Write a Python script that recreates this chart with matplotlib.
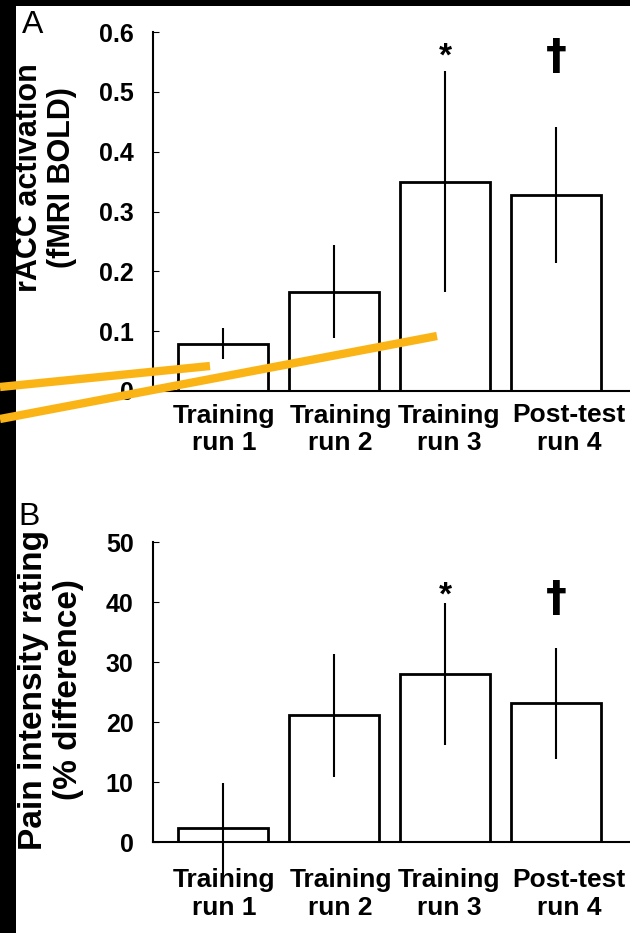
import numpy as np
import matplotlib
matplotlib.use("Agg")
import matplotlib.pyplot as plt
from matplotlib.patches import Rectangle
from matplotlib.lines import Line2D

plt.rcParams['font.family'] = ['Liberation Sans', 'DejaVu Sans']

# data
runs = ["Training\nrun 1", "Training\nrun 2", "Training\nrun 3", "Post-test\nrun 4"]
racc_mean = [0.079, 0.166, 0.350, 0.328]
racc_err = [0.026, 0.078, 0.185, 0.114]
pain_mean = [2.3, 21.1, 28.0, 23.1]
pain_err = [7.6, 10.3, 11.8, 9.3]
marks = ["", "", "*", "\u2020"]
racc_ticks = [0, 0.1, 0.2, 0.3, 0.4, 0.5, 0.6]
racc_ticklabels = ["0", "0.1", "0.2", "0.3", "0.4", "0.5", "0.6"]
pain_ticks = [0, 10, 20, 30, 40, 50]

W, H = 630, 933
fig = plt.figure(figsize=(W / 100, H / 100), dpi=100, facecolor="black")
# white page with black strip left and top
fig.patches.append(Rectangle((16 / W, 0), 1, 1 - 6 / H, transform=fig.transFigure,
                             facecolor="white", edgecolor="none", zorder=-10))

x = np.arange(len(runs))
label_shift = [0.01, 0.06, 0.04, 0.12]  # labels sit a bit right of bar centres


def panel(top, bottom, means, errs, ticks, ticklabels, ylim, labelpad, mark_y):
    ax = fig.add_axes([153 / W, 1 - bottom / H, 1 - 153 / W, (bottom - top) / H])
    ax.set_facecolor("none")
    ax.bar(x, means, width=0.81, color="white", edgecolor="black", linewidth=2.0, zorder=2)
    eb = ax.errorbar(x, means, yerr=errs, fmt="none", ecolor="black", elinewidth=1.5,
                     capsize=0, zorder=3)
    for c in eb.lines[2]:
        c.set_clip_on(False)
    ax.set_xlim(-0.63, 3.667)
    ax.set_ylim(*ylim)
    ax.set_yticks(ticks)
    ax.set_yticklabels(ticklabels, fontsize=18, fontweight="bold")
    ax.set_xticks(x + np.array(label_shift))
    ax.set_xticklabels(runs, fontsize=19, fontweight="bold", linespacing=1.2)
    ax.tick_params(axis="x", length=0, pad=labelpad)
    ax.tick_params(axis="y", direction="in", length=4, width=0.8, pad=14)
    for s in ["top", "right"]:
        ax.spines[s].set_visible(False)
    for s in ["left", "bottom"]:
        ax.spines[s].set_linewidth(1.5)
    for i, m in enumerate(marks):
        if m == "*":
            ax.text(x[i], mark_y[0], m, transform=ax.get_xaxis_transform(),
                    ha="center", va="center", fontsize=24, fontweight="bold")
        elif m:
            ax.text(x[i], mark_y[1], m, transform=ax.get_xaxis_transform(),
                    ha="center", va="center", fontsize=30, fontweight="bold",
                    family="DejaVu Sans")
    return ax


axA = panel(32, 391, racc_mean, racc_err, racc_ticks, racc_ticklabels, (0, 0.6), 9,
            [0.93, 0.93])
axB = panel(542, 842, pain_mean, pain_err, pain_ticks, [str(t) for t in pain_ticks],
            (0, 50), 19, [0.82, 0.81])

fig.text(45.5 / W, 1 - 178 / H, "rACC activation\n(fMRI BOLD)", rotation=90,
         ha="center", va="center", multialignment="center", fontsize=22,
         fontweight="bold", linespacing=1.1)
fig.text(51 / W, 1 - 690 / H, "Pain intensity rating\n(% difference)", rotation=90,
         ha="center", va="center", multialignment="center", fontsize=24,
         fontweight="bold", linespacing=1.17)
fig.text(22 / W, 1 - 33 / H, "A", fontsize=23, ha="left", va="baseline")
fig.text(18 / W, 1 - 525 / H, "B", fontsize=23, ha="left", va="baseline")

# orange strokes drawn over the figure
for xs, ys in [((0, 210), (387, 366)), ((0, 437), (419, 336))]:
    fig.add_artist(Line2D([v / W for v in xs], [1 - v / H for v in ys],
                          transform=fig.transFigure, color="#FBB416", linewidth=6,
                          solid_capstyle="butt", zorder=20))

fig.savefig("out.png", dpi=100, facecolor=fig.get_facecolor())
